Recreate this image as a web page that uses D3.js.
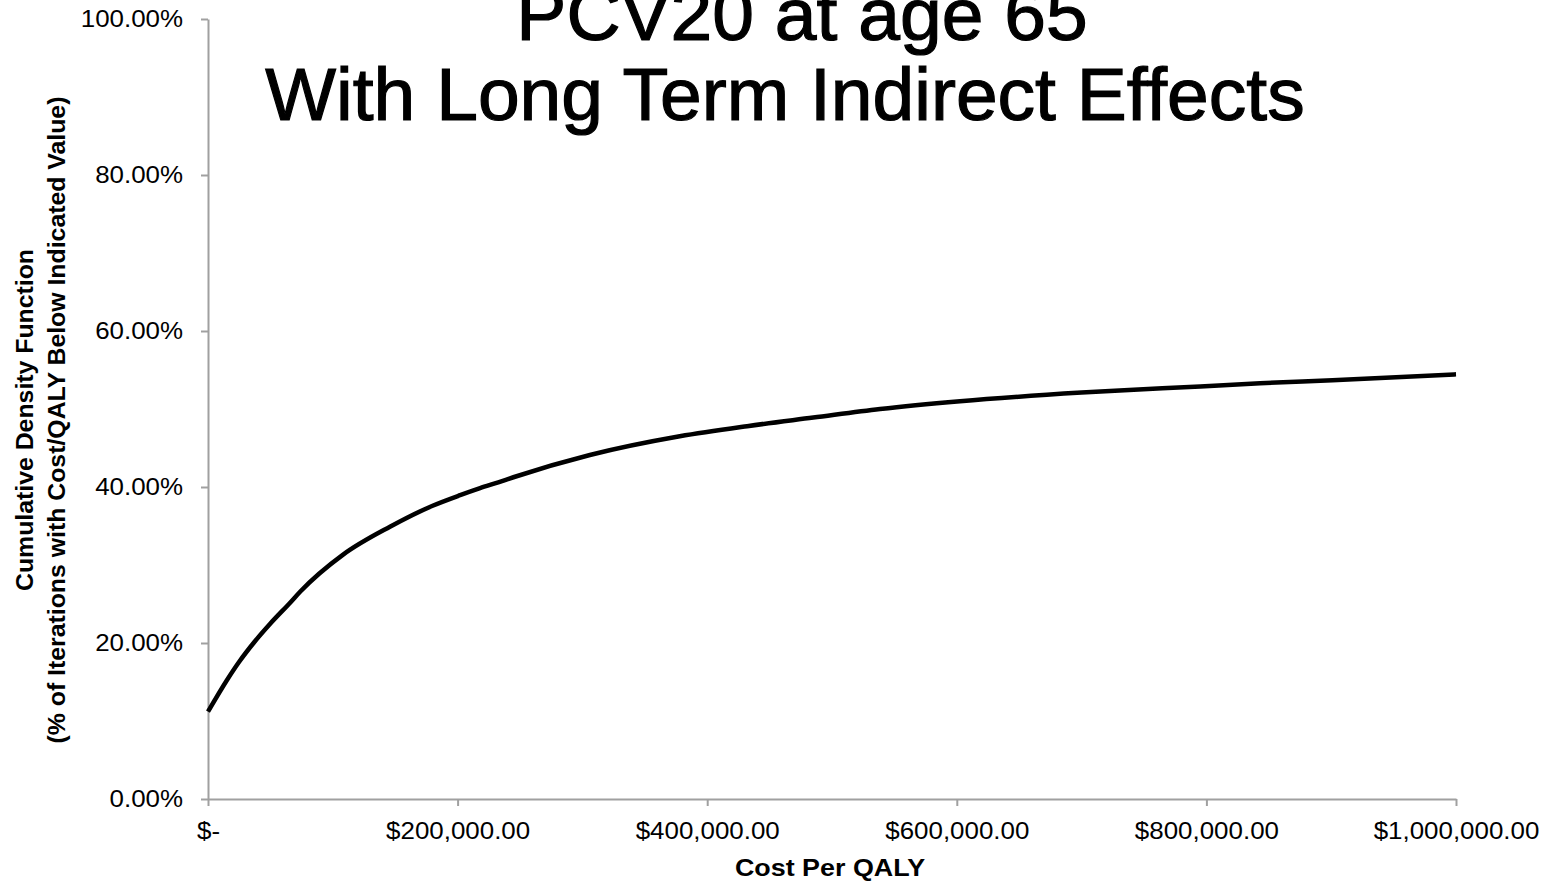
<!DOCTYPE html>
<html>
<head>
<meta charset="utf-8">
<script src="https://cdn.jsdelivr.net/npm/d3@7"></script>
<style>
  body { margin: 0; background: #fff; }
  svg { display: block; font-family: "Liberation Sans", Arial, sans-serif; }
</style>
</head>
<body>
<div id="chart"></div>
<script>
// --- data ---
const costPerQaly = [0, 15000, 25000, 37000, 50000, 66000, 74000, 108000, 145800, 180000, 202000,
  218000, 232600, 244700, 306000, 378000, 432000, 485000, 538500, 602600, 700000, 795000, 843000, 901000, 1000000];
const cdfShare = [0.112, 0.152, 0.176, 0.201, 0.225, 0.252, 0.266, 0.313, 0.349, 0.376, 0.3895,
  0.3985, 0.406, 0.4125, 0.441, 0.465, 0.478, 0.489, 0.500, 0.510, 0.521, 0.529, 0.533, 0.537, 0.5445];

const xTicks = [0, 200000, 400000, 600000, 800000, 1000000];
const yTicks = [0, 0.2, 0.4, 0.6, 0.8, 1.0];

const titleLines = ["PCV20 at age 65", "With Long Term Indirect Effects"];
const xTitle = "Cost Per QALY";
const yTitleLines = ["Cumulative Density Function", "(% of Iterations with Cost/QALY Below Indicated Value)"];

const W = 1549, H = 881;
const plot = { left: 208, right: 1456, top: 19, bottom: 799 };
const STRETCH = 1.08; // labels in the picture are a little wide
const AXIS_GREY = "#a0a0a0";

const svg = d3.select("#chart").append("svg").attr("width", W).attr("height", H);

const x = d3.scaleLinear().domain([0, 1000000]).range([plot.left, plot.right]);
const y = d3.scaleLinear().domain([0, 1]).range([plot.bottom, plot.top]);

const fmtMoney = d3.format(",.2f");
const fmtPct = d3.format(".2%");

// y axis
const yAxis = svg.append("g")
  .attr("transform", `translate(${plot.left},0)`)
  .call(d3.axisLeft(y).tickValues(yTicks).tickFormat(fmtPct).tickSize(7).tickSizeOuter(0).tickPadding(18));
yAxis.selectAll("text")
  .attr("x", -25 / STRETCH)
  .attr("transform", `scale(${STRETCH},1)`)
  .attr("font-size", 24).attr("fill", "#000");

// x axis
const xAxis = svg.append("g")
  .attr("transform", `translate(0,${plot.bottom})`)
  .call(d3.axisBottom(x).tickValues(xTicks).tickFormat(d => d === 0 ? "$-" : "$" + fmtMoney(d))
    .tickSize(7).tickSizeOuter(0).tickPadding(16));
xAxis.selectAll("text")
  .attr("transform", `scale(${STRETCH},1)`)
  .attr("font-size", 24).attr("fill", "#000");

svg.selectAll(".domain, .tick line").attr("stroke", AXIS_GREY).attr("stroke-width", 2);

// curve
const pts = costPerQaly.map((c, i) => ({ c, p: cdfShare[i] }));
svg.append("path").datum(pts)
  .attr("fill", "none").attr("stroke", "#000").attr("stroke-width", 4.5)
  .attr("stroke-linejoin", "round")
  .attr("d", d3.line().x(d => x(d.c)).y(d => y(d.p)).curve(d3.curveMonotoneX));

// titles
const title = svg.append("g").attr("font-size", 75).attr("text-anchor", "middle")
  .attr("fill", "#000").attr("stroke", "#000").attr("stroke-width", 1.2);
title.append("text").attr("x", 802).attr("y", 40).text(titleLines[0]);
title.append("text").attr("x", 785).attr("y", 120).text(titleLines[1]);

svg.append("text")
  .attr("transform", `translate(830,876) scale(1.12,1)`)
  .attr("text-anchor", "middle").attr("font-size", 24).attr("font-weight", "bold")
  .text(xTitle);

const yt = svg.append("g").attr("transform", "translate(0,420) rotate(-90)");
yTitleLines.forEach((line, i) => {
  yt.append("text")
    .attr("transform", `translate(0,${33 + i * 32}) scale(${STRETCH},1)`)
    .attr("text-anchor", "middle").attr("font-size", 23).attr("font-weight", "bold")
    .text(line);
});
</script>
</body>
</html>
